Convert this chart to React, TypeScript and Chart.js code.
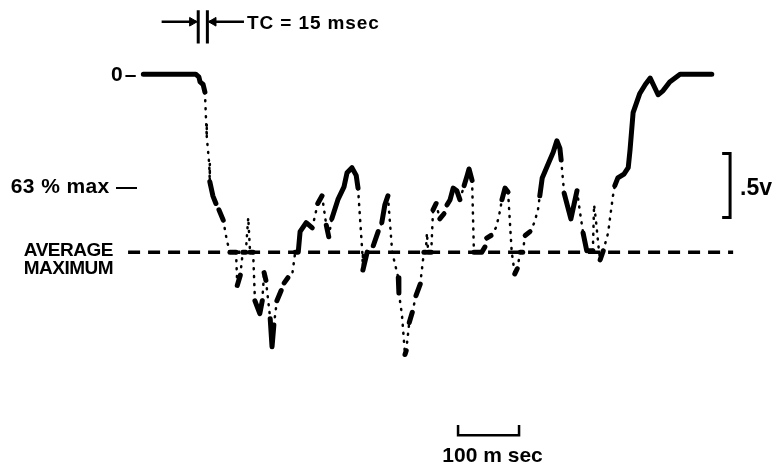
import React, { useEffect, useRef, useState } from "react";
import { Chart, registerables } from "chart.js";

Chart.register(...registerables);

// ---------- data (time in ms from the step, deflection in volts, downward) ----------
const timeMs = [
  -93, -7, -2, 0, 5, 8, 10, 11, 15, 16, 21, 26, 31, 38, 44, 49,
  59, 61, 66, 70, 75, 79, 82, 87, 90, 98, 102, 105, 108, 115, 118, 121, 126, 133, 138, 144, 151, 156,
  161, 164, 174, 184, 193, 200, 207, 211, 216, 226, 236, 241, 249, 256, 259,
  266, 267, 274, 284, 292, 298, 303, 308,
  315, 325, 326, 331, 336, 338, 343, 348, 354, 361, 367, 370, 372, 374, 379,
  382, 387, 393, 400, 405, 410, 415, 421, 426, 433, 438, 441, 446,
  449, 462, 467, 470, 477, 485, 490, 495, 500, 505,
  511, 516, 520, 525, 529, 533, 541, 548, 554, 557, 561, 570, 579, 585, 590, 592,
  597, 608, 618, 623, 628, 634, 644, 646, 649, 654, 656, 661,
  669, 672, 677, 680, 685, 695, 702, 705, 710, 721, 730, 738, 744, 751, 759, 770, 787, 803, 839,
];

const deflectionV = [
  0, 0, 0.02, 0.06, 0.08, 0.14, 0.38, 0.49, 0.7, 0.84, 0.95, 1.01, 1.06, 1.14, 1.3, 1.39,
  1.39, 1.65, 1.57, 1.39, 1.39, 1.12, 1.39, 1.39, 1.77, 1.87, 1.77, 1.55, 1.61, 1.91, 2.13, 1.96, 1.77, 1.69, 1.63, 1.59, 1.57, 1.39,
  1.39, 1.23, 1.16, 1.2, 1.01, 0.95, 1.18, 1.27, 1.13, 0.98, 0.88, 0.77, 0.73, 0.79, 0.89,
  1.39, 1.53, 1.39, 1.34, 1.23, 1.16, 1.02, 0.95,
  1.39, 1.59, 1.71, 1.88, 2.19, 2.16, 1.94, 1.86, 1.73, 1.64, 1.39, 1.39, 1.24, 1.39, 1.39,
  1.06, 1.01, 1.13, 1.09, 1.02, 0.98, 0.89, 0.91, 0.98, 0.87, 0.79, 0.74, 0.83,
  1.39, 1.39, 1.35, 1.28, 1.26, 1.2, 1.11, 0.98, 0.89, 0.92,
  1.39, 1.56, 1.52, 1.39, 1.39, 1.26, 1.23, 1.16, 1.06, 0.95, 0.81, 0.71, 0.61, 0.52, 0.58, 0.67,
  0.93, 1.13, 0.91, 1.08, 1.24, 1.38, 1.38, 1.02, 1.14, 1.38, 1.45, 1.38,
  1.24, 1.13, 0.95, 0.87, 0.81, 0.78, 0.73, 0.59, 0.3, 0.15, 0.08, 0.03, 0.09, 0.16, 0.13, 0.06, 0, 0, 0,
];

// 1 = slow part of the sweep (bright phosphor), 0 = fast jump (faint, dotted)
const traceVisible = [
  1, 1, 1, 1, 1, 1, 0, 0, 0, 0, 1, 1, 0, 1, 0, 0,
  1, 0, 1, 0, 1, 0, 0, 1, 0, 1, 1, 0, 1, 0, 1, 1, 0, 1, 0, 1, 0, 0,
  1, 1, 1, 1, 0, 1, 0, 1, 0, 1, 1, 1, 1, 1, 1,
  0, 0, 1, 0, 1, 0, 1, 1,
  0, 0, 1, 0, 0, 1, 0, 1, 0, 1, 0, 1, 0, 0, 1,
  0, 1, 0, 1, 0, 1, 1, 1, 1, 0, 1, 1, 1,
  0, 1, 1, 0, 1, 0, 0, 0, 1, 1,
  0, 0, 1, 0, 1, 0, 1, 0, 0, 0, 1, 1, 1, 1, 1, 1,
  0, 1, 1, 0, 0, 1, 1, 0, 0, 0, 0, 1,
  0, 0, 0, 0, 1, 1, 1, 1, 1, 1, 1, 1, 1, 1, 1, 1, 1, 1, 1,
];

const AVERAGE_MAX_V = 1.39;
const PCT_OF_MAX = 0.63;
const AVG_LINE_FROM_MS = -118;
const AVG_LINE_TO_MS = 874;

const TC_MS = 15;
const TC_LEFT_MS = -3;
const TC_TOP_V = -0.5;
const TC_BOTTOM_V = -0.24;
const TC_ARROW_V = -0.41;
const TC_ARROW_REACH_MS = 60;

const VOLT_BAR_V = 0.5;
const VOLT_BAR_TOP_V = 0.62;
const VOLT_BAR_AT_MS = 869;
const VOLT_BAR_TICK_MS = 13;

const TIME_BAR_MS = 100;
const TIME_BAR_FROM_MS = 423;
const TIME_BAR_AT_V = 2.82;
const TIME_BAR_TICK_V = 0.08;

const X_MIN = -328;
const X_MAX = 941;
const Y_MIN = -0.58;
const Y_MAX = 3.1;

const W = 774;
const H = 471;
const FONT = '"Liberation Sans", Arial, Helvetica, sans-serif';

function lineDs(points: { x: number; y: number }[], width: number, extra: any = {}) {
  return {
    data: points,
    borderColor: "#000",
    backgroundColor: "#000",
    borderWidth: width,
    pointRadius: 0,
    borderCapStyle: "butt",
    ...extra,
  };
}

export default function App() {
  const canvasRef = useRef<HTMLCanvasElement | null>(null);
  const [pos, setPos] = useState<any>(null);

  useEffect(() => {
    const canvas = canvasRef.current;
    if (!canvas) return;
    const trace = timeMs.map((t, i) => ({ x: t, y: deflectionV[i] }));
    const tcRight = TC_LEFT_MS + TC_MS;

    const datasets: any[] = [
      lineDs(
        [
          { x: AVG_LINE_FROM_MS, y: AVERAGE_MAX_V },
          { x: AVG_LINE_TO_MS, y: AVERAGE_MAX_V },
        ],
        3.5,
        { borderDash: [12, 8] }
      ),
      lineDs(trace, 5, {
        borderCapStyle: "round",
        borderJoinStyle: "round",
        segment: {
          borderDash: (c: any) => (traceVisible[c.p1DataIndex] ? undefined : [1, 7]),
          borderWidth: (c: any) => (traceVisible[c.p1DataIndex] ? undefined : 2.5),
        },
      }),
      // TC marker bars
      lineDs([{ x: TC_LEFT_MS, y: TC_TOP_V }, { x: TC_LEFT_MS, y: TC_BOTTOM_V }], 3),
      lineDs([{ x: tcRight, y: TC_TOP_V }, { x: tcRight, y: TC_BOTTOM_V }], 3),
      // arrows
      lineDs([{ x: TC_LEFT_MS - TC_ARROW_REACH_MS, y: TC_ARROW_V }, { x: TC_LEFT_MS - 3, y: TC_ARROW_V }], 2.5),
      lineDs([{ x: tcRight + 3, y: TC_ARROW_V }, { x: tcRight + TC_ARROW_REACH_MS, y: TC_ARROW_V }], 2.5),
      {
        data: [{ x: TC_LEFT_MS - 10, y: TC_ARROW_V }],
        showLine: false,
        pointStyle: "triangle",
        pointRotation: 90,
        pointRadius: 5,
        backgroundColor: "#000",
        borderColor: "#000",
        borderWidth: 1,
      },
      {
        data: [{ x: tcRight + 10, y: TC_ARROW_V }],
        showLine: false,
        pointStyle: "triangle",
        pointRotation: 270,
        pointRadius: 5,
        backgroundColor: "#000",
        borderColor: "#000",
        borderWidth: 1,
      },
      // .5 V bracket
      lineDs(
        [
          { x: VOLT_BAR_AT_MS - VOLT_BAR_TICK_MS, y: VOLT_BAR_TOP_V },
          { x: VOLT_BAR_AT_MS, y: VOLT_BAR_TOP_V },
          { x: VOLT_BAR_AT_MS, y: VOLT_BAR_TOP_V + VOLT_BAR_V },
          { x: VOLT_BAR_AT_MS - VOLT_BAR_TICK_MS, y: VOLT_BAR_TOP_V + VOLT_BAR_V },
        ],
        3
      ),
      // 100 ms bar
      lineDs(
        [
          { x: TIME_BAR_FROM_MS, y: TIME_BAR_AT_V - TIME_BAR_TICK_V },
          { x: TIME_BAR_FROM_MS, y: TIME_BAR_AT_V },
          { x: TIME_BAR_FROM_MS + TIME_BAR_MS, y: TIME_BAR_AT_V },
          { x: TIME_BAR_FROM_MS + TIME_BAR_MS, y: TIME_BAR_AT_V - TIME_BAR_TICK_V },
        ],
        2.5
      ),
    ];

    const chart = new Chart(canvas, {
      type: "line",
      data: { datasets },
      options: {
        responsive: false,
        animation: false,
        devicePixelRatio: 1,
        events: [],
        layout: { padding: 0, autoPadding: false },
        plugins: {
          legend: { display: false },
          tooltip: { enabled: false },
          title: { display: false },
        },
        elements: { line: { tension: 0 }, point: { radius: 0 } },
        scales: {
          x: { type: "linear", min: X_MIN, max: X_MAX, display: false },
          y: { type: "linear", min: Y_MIN, max: Y_MAX, reverse: true, display: false },
        },
      } as any,
    });

    const xs = chart.scales.x;
    const ys = chart.scales.y;
    setPos({
      traceStartX: xs.getPixelForValue(timeMs[0]),
      zeroY: ys.getPixelForValue(0),
      pctY: ys.getPixelForValue(PCT_OF_MAX * AVERAGE_MAX_V),
      avgX: xs.getPixelForValue(AVG_LINE_FROM_MS),
      avgY: ys.getPixelForValue(AVERAGE_MAX_V),
      tcX: xs.getPixelForValue(tcRight + TC_ARROW_REACH_MS),
      tcY: ys.getPixelForValue(TC_ARROW_V),
      voltX: xs.getPixelForValue(VOLT_BAR_AT_MS),
      voltY: ys.getPixelForValue(VOLT_BAR_TOP_V + VOLT_BAR_V / 2),
      timeX: xs.getPixelForValue(TIME_BAR_FROM_MS + TIME_BAR_MS / 2),
      timeY: ys.getPixelForValue(TIME_BAR_AT_V),
    });

    return () => chart.destroy();
  }, []);

  const base: React.CSSProperties = {
    position: "absolute",
    fontFamily: FONT,
    fontWeight: 700,
    color: "#000",
    lineHeight: 1,
    whiteSpace: "nowrap",
  };

  return (
    <div style={{ position: "absolute", left: 0, top: 0, width: W, height: H, background: "#fff", overflow: "hidden" }}>
      <canvas ref={canvasRef} width={W} height={H} style={{ position: "absolute", left: 0, top: 0 }} />
      {pos && (
        <>
          <div style={{ ...base, fontSize: 21, letterSpacing: 2, right: W - (pos.traceStartX - 5), top: pos.zeroY, transform: "translateY(-52%)" }}>
            0–
          </div>
          <div style={{ ...base, fontSize: 21, letterSpacing: 0.4, right: W - (pos.traceStartX - 6), top: pos.pctY, transform: "translateY(-52%)" }}>
            63 % max —
          </div>
          <div style={{ ...base, fontSize: 19, letterSpacing: -0.5, right: W - (pos.avgX - 15), top: pos.avgY - 12, textAlign: "center" }}>
            <div>AVERAGE</div>
            <div style={{ marginTop: -1 }}>MAXIMUM</div>
          </div>
          <div style={{ ...base, fontSize: 19, letterSpacing: 0.9, left: pos.tcX + 3, top: pos.tcY, transform: "translateY(-50%)" }}>
            TC = 15 msec
          </div>
          <div style={{ ...base, fontSize: 23, left: pos.voltX + 10, top: pos.voltY, transform: "translateY(-45%)" }}>
            .5v
          </div>
          <div style={{ ...base, fontSize: 21, left: pos.timeX + 4, top: pos.timeY + 9, transform: "translateX(-50%)" }}>
            100 m sec
          </div>
        </>
      )}
    </div>
  );
}
